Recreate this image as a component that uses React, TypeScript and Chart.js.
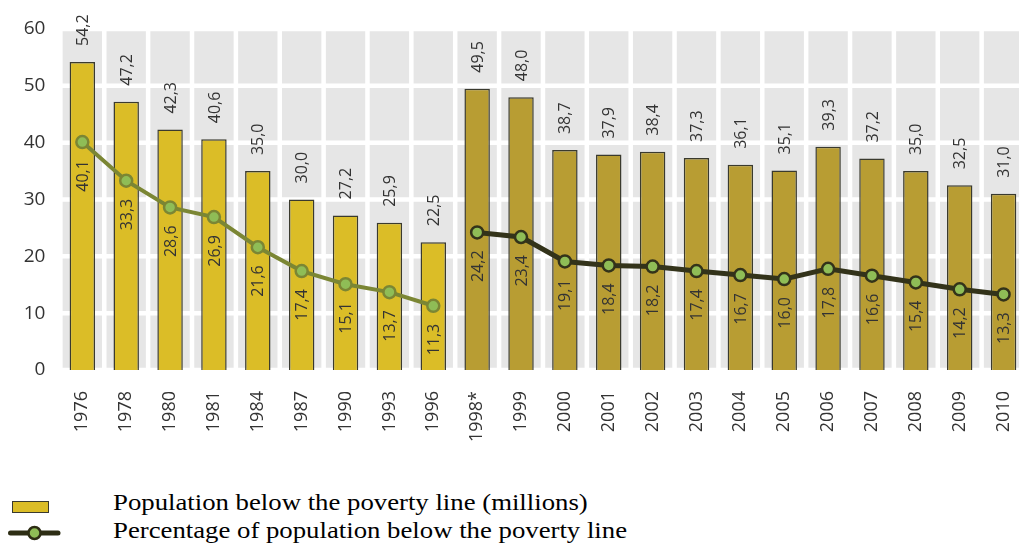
import React, { useEffect, useRef } from "react";
import { Chart, registerables } from "chart.js";

Chart.register(...registerables);

const categories = [
  "1976", "1978", "1980", "1981", "1984", "1987", "1990", "1993", "1996",
  "1998*", "1999", "2000", "2001", "2002", "2003", "2004", "2005", "2006",
  "2007", "2008", "2009", "2010",
];

const population = [
  54.2, 47.2, 42.3, 40.6, 35.0, 30.0, 27.2, 25.9, 22.5,
  49.5, 48.0, 38.7, 37.9, 38.4, 37.3, 36.1, 35.1, 39.3, 37.2, 35.0, 32.5, 31.0,
];

const percentOld = [
  40.1, 33.3, 28.6, 26.9, 21.6, 17.4, 15.1, 13.7, 11.3,
  null, null, null, null, null, null, null, null, null, null, null, null, null,
];

const percentNew = [
  null, null, null, null, null, null, null, null, null,
  24.2, 23.4, 19.1, 18.4, 18.2, 17.4, 16.7, 16.0, 17.8, 16.6, 15.4, 14.2, 13.3,
];

const yTicks = [0, 10, 20, 30, 40, 50, 60];

const OLD_BAR = "#dbbd27";
const NEW_BAR = "#b89d33";
const OLD_LINE = "#7b8634";
const NEW_LINE = "#33331a";
const POINT_FILL = "#8fbd56";
const TEXT = "#333333";
const FONT = '"Open Sans", "DejaVu Sans", sans-serif';

const fmt = (v: number) => v.toFixed(1).replace(".", ",");

const backgroundPlugin = {
  id: "cellBackground",
  beforeDraw(chart: any) {
    const { ctx, chartArea } = chart;
    const { left, right, top, bottom } = chartArea;
    const y = chart.scales.y;
    ctx.save();
    ctx.fillStyle = "#e6e6e6";
    ctx.fillRect(left, top, right - left, bottom - top);
    ctx.strokeStyle = "#ffffff";
    ctx.lineWidth = 4.5;
    yTicks.forEach((v) => {
      const py = y.getPixelForValue(v);
      ctx.beginPath();
      ctx.moveTo(left, py);
      ctx.lineTo(right, py);
      ctx.stroke();
    });
    const n = categories.length;
    const w = (right - left) / n;
    for (let i = 0; i <= n; i++) {
      const px = left + i * w;
      ctx.beginPath();
      ctx.moveTo(px, top);
      ctx.lineTo(px, bottom);
      ctx.stroke();
    }
    ctx.restore();
  },
};

const labelPlugin = {
  id: "valueLabels",
  afterDatasetsDraw(chart: any) {
    const { ctx } = chart;
    ctx.save();
    ctx.font = `16px ${FONT}`;
    ctx.fillStyle = TEXT;
    ctx.textBaseline = "middle";
    const barMeta = chart.getDatasetMeta(0);
    barMeta.data.forEach((el: any, i: number) => {
      ctx.save();
      ctx.translate(el.x + 1, el.y - 16);
      ctx.rotate(-Math.PI / 2);
      ctx.textAlign = "left";
      ctx.fillText(fmt(population[i]), 0, 0);
      ctx.restore();
    });
    [1, 2].forEach((di) => {
      const meta = chart.getDatasetMeta(di);
      const data = chart.data.datasets[di].data;
      meta.data.forEach((el: any, i: number) => {
        const v = data[i];
        if (v === null || v === undefined) return;
        ctx.save();
        ctx.translate(el.x + 1, el.y + 18);
        ctx.rotate(-Math.PI / 2);
        ctx.textAlign = "right";
        ctx.fillText(fmt(v), 0, 0);
        ctx.restore();
      });
    });
    ctx.restore();
  },
};

export default function App() {
  const canvasRef = useRef<HTMLCanvasElement | null>(null);

  useEffect(() => {
    const canvas = canvasRef.current;
    if (!canvas) return;
    const chart = new Chart(canvas, {
      type: "bar",
      data: {
        labels: categories,
        datasets: [
          {
            type: "bar",
            label: "Population below the poverty line (millions)",
            data: population,
            backgroundColor: population.map((_, i) => (i < 9 ? OLD_BAR : NEW_BAR)),
            borderColor: "#3a3a2e",
            borderWidth: 1.5,
            categoryPercentage: 1,
            barPercentage: 0.58,
            order: 2,
          } as any,
          {
            type: "line",
            label: "Percentage of population below the poverty line",
            data: percentOld,
            borderColor: OLD_LINE,
            borderWidth: 4,
            pointRadius: 6,
            pointBorderWidth: 2.5,
            pointBackgroundColor: POINT_FILL,
            pointBorderColor: OLD_LINE,
            spanGaps: false,
            order: 1,
          } as any,
          {
            type: "line",
            label: "Percentage of population below the poverty line (new)",
            data: percentNew,
            borderColor: NEW_LINE,
            borderWidth: 5,
            pointRadius: 6,
            pointBorderWidth: 2.5,
            pointBackgroundColor: POINT_FILL,
            pointBorderColor: NEW_LINE,
            spanGaps: false,
            order: 0,
          } as any,
        ],
      },
      options: {
        animation: false,
        responsive: false,
        devicePixelRatio: 1,
        layout: { padding: { top: 29, right: 1, left: 0, bottom: 0 } },
        plugins: {
          legend: { display: false },
          tooltip: { enabled: false },
        },
        scales: {
          x: {
            offset: true,
            grid: { display: false, drawTicks: false },
            border: { display: false },
            ticks: {
              minRotation: 90,
              maxRotation: 90,
              autoSkip: false,
              padding: 21,
              color: TEXT,
              font: { family: FONT, size: 18 },
            },
            afterFit: (scale: any) => {
              scale.height = 90;
              scale.paddingLeft = 0;
              scale.paddingRight = 0;
            },
          },
          y: {
            min: 0,
            max: 60,
            grid: { display: false, drawTicks: false },
            border: { display: false },
            ticks: {
              stepSize: 10,
              padding: 15,
              color: TEXT,
              font: { family: FONT, size: 19 },
            },
            afterFit: (scale: any) => {
              scale.width = 60.4;
            },
          },
        },
      },
      plugins: [backgroundPlugin, labelPlugin],
    });
    return () => chart.destroy();
  }, []);

  const serif = '"Liberation Serif", "Times New Roman", serif';

  return (
    <div
      style={{
        position: "fixed",
        left: 0,
        top: 0,
        width: "100vw",
        height: "100vh",
        overflow: "hidden",
        background: "#ffffff",
      }}
    >
      <canvas
        ref={canvasRef}
        width={1034}
        height={460}
        style={{ position: "absolute", left: 0, top: 0, width: 1034, height: 460 }}
      />
      <div
        style={{
          position: "absolute",
          left: 11.7,
          top: 500.7,
          width: 37.6,
          height: 12.6,
          boxSizing: "border-box",
          border: "1.5px solid #3a3a2e",
          background: OLD_BAR,
        }}
      />
      <svg
        width={54}
        height={18}
        style={{ position: "absolute", left: 8, top: 524 }}
      >
        <line x1={2.5} y1={9} x2={50} y2={9} stroke="#2d2d14" strokeWidth={5} strokeLinecap="round" />
        <circle cx={26.5} cy={9} r={6} fill={POINT_FILL} stroke="#2d2d14" strokeWidth={2.5} />
      </svg>
      <div
        style={{
          position: "absolute",
          left: 113,
          top: 489,
          fontFamily: serif,
          fontSize: 23,
          lineHeight: "28px",
          color: "#000",
          whiteSpace: "nowrap",
          transform: "scaleX(1.163)",
          transformOrigin: "0 0",
        }}
      >
        <div>Population below the poverty line (millions)</div>
        <div>Percentage of population below the poverty line</div>
      </div>
    </div>
  );
}
